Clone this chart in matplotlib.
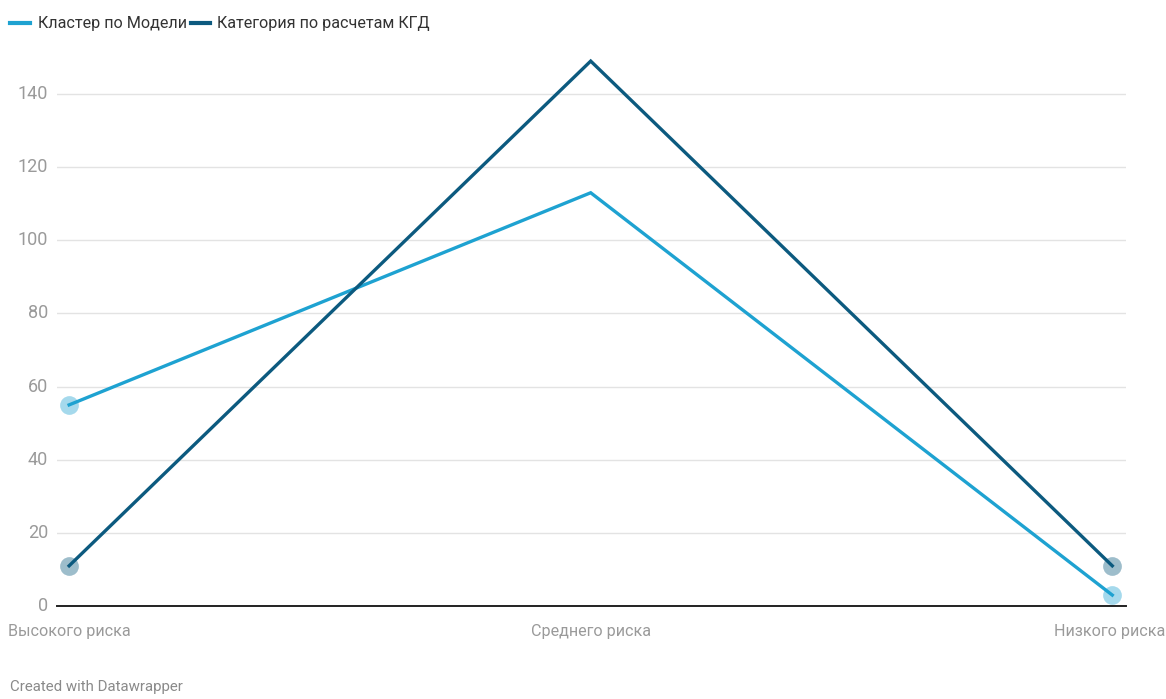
import matplotlib.pyplot as plt

plt.rcParams['font.family'] = ['Roboto', 'DejaVu Sans']

categories = ['Высокого риска', 'Среднего риска', 'Низкого риска']
model_cluster = [55, 113, 3]
kgd_category = [11, 149, 11]
series_names = ['Кластер по Модели', 'Категория по расчетам КГД']
y_ticks = [0, 20, 40, 60, 80, 100, 120, 140]

light = '#1ea2d1'
dark = '#0c5a7f'

fig = plt.figure(figsize=(11.66, 6.99), dpi=100)
ax = fig.add_axes([0.049, 0.133, 0.917, 0.811])

x = list(range(len(categories)))
ax.plot(x, model_cluster, color=light, lw=2.4, zorder=3, solid_joinstyle='miter')
ax.plot(x, kgd_category, color=dark, lw=2.4, zorder=3, solid_joinstyle='miter')
# translucent dots on the end points only
for vals, c in ((model_cluster, light), (kgd_category, dark)):
    ax.plot([x[0], x[-1]], [vals[0], vals[-1]], ls='none', marker='o', ms=13.5,
            color=c, alpha=0.4, mec='none', zorder=2)

ax.set_xlim(-0.023, 2.027)
ax.set_ylim(0, 155)
ax.set_yticks(y_ticks)
ax.set_xticks(x)
ax.set_xticklabels([])
ax.grid(axis='y', color='#e3e3e3', lw=1)
ax.set_axisbelow(True)
for s in ['top', 'right', 'left']:
    ax.spines[s].set_visible(False)
ax.spines['bottom'].set_color('#222222')
ax.spines['bottom'].set_linewidth(1.4)
ax.tick_params(axis='both', length=0, labelsize=13, labelcolor='#9a9a9a')
ax.tick_params(axis='y', pad=6.5)
for lab in ax.get_yticklabels():
    lab.set_va('center')

# category labels; the last one is pulled in so it stays on the canvas
for i, name in enumerate(categories):
    last = i == len(categories) - 1
    ax.annotate(name, xy=(i, 0), xycoords=('data', 'axes fraction'),
                xytext=(38 if last else 0, -13), textcoords='offset points',
                ha='right' if last else 'center', va='top',
                fontsize=11.6, color='#9a9a9a')

# legend row
fig.lines.append(plt.Line2D([0.009, 0.026], [0.967, 0.967], color=light, lw=3, transform=fig.transFigure))
fig.text(0.0326, 0.967, series_names[0], fontsize=11.6, color='#333333', va='center')
fig.lines.append(plt.Line2D([0.164, 0.180], [0.967, 0.967], color=dark, lw=3, transform=fig.transFigure))
fig.text(0.186, 0.967, series_names[1], fontsize=11.6, color='#333333', va='center')

fig.text(0.009, 0.012, 'Created with Datawrapper', fontsize=10.8, color='#8a8a8a')

fig.savefig('out.png', dpi=100, facecolor='white')
